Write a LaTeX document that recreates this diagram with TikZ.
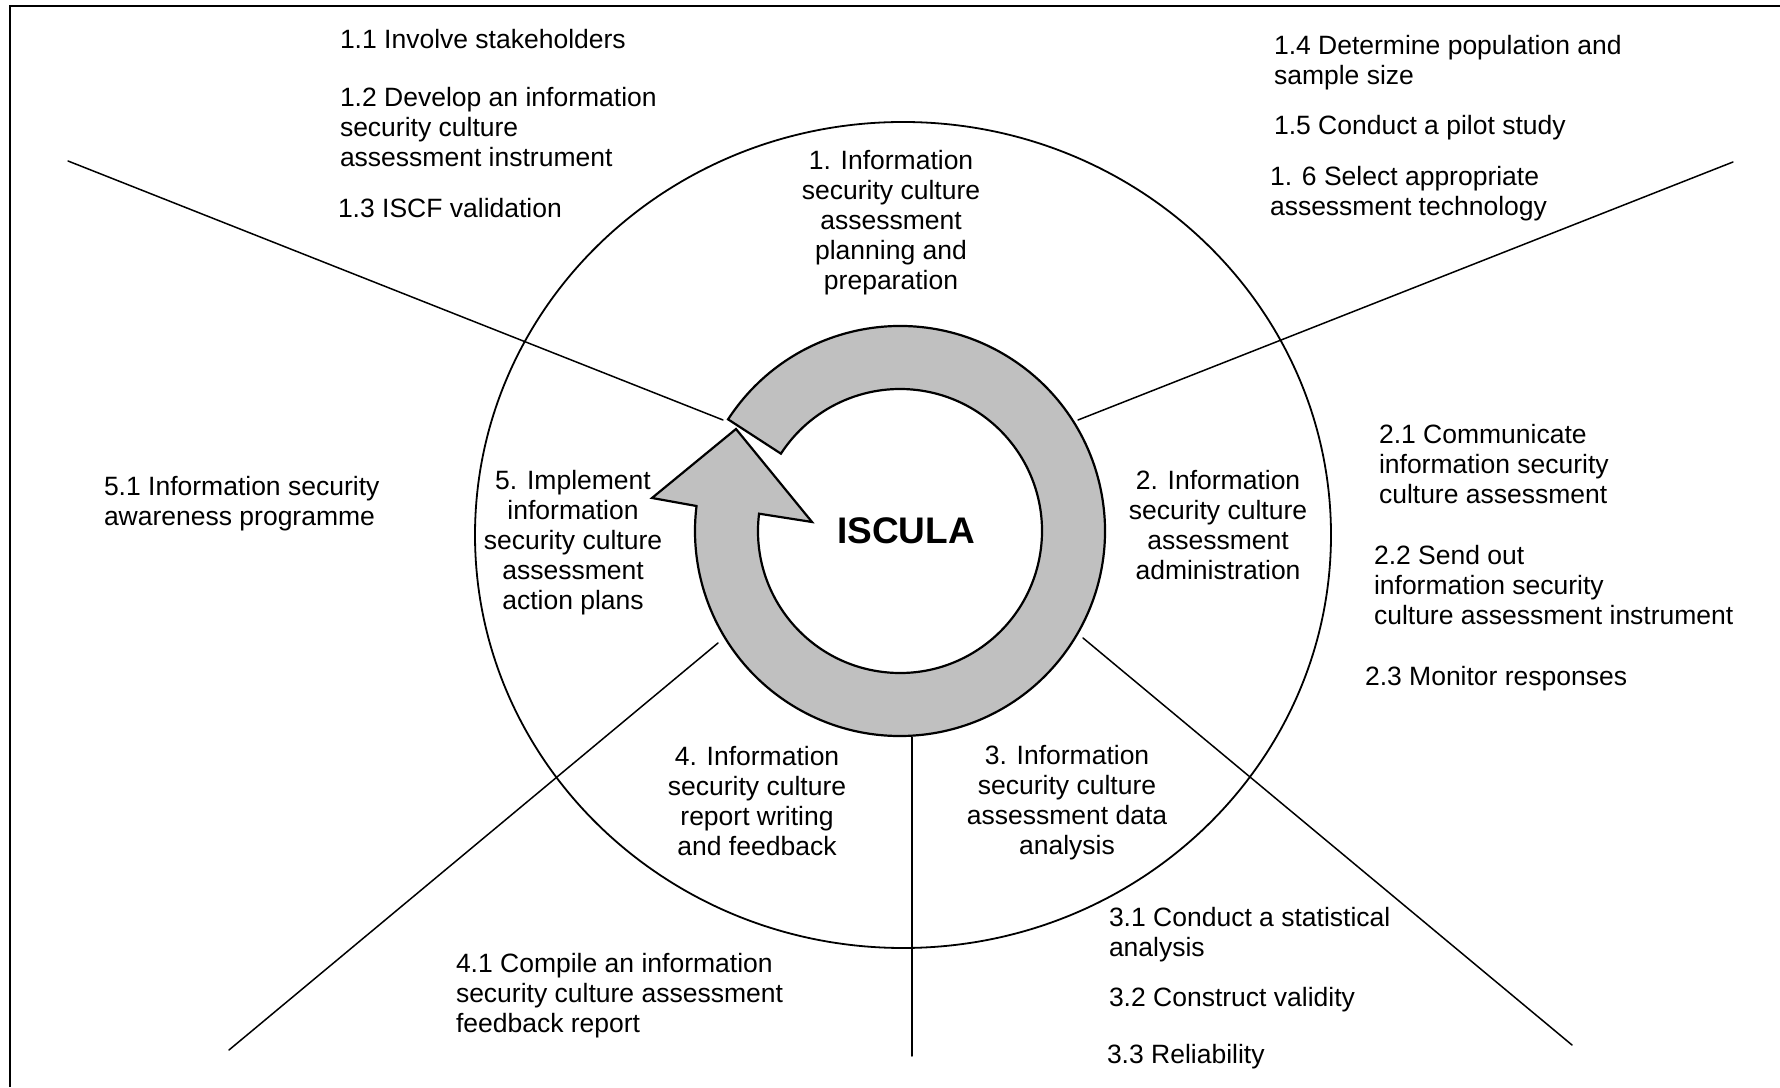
\documentclass[tikz,border=0pt]{standalone}
\usepackage{fontspec}
\setmainfont{Liberation Sans}
\usetikzlibrary{calc,shapes.geometric}
\definecolor{ringgray}{HTML}{C0C0C0}
\begin{document}
\begin{tikzpicture}[x=1pt,y=1pt,
  lbl/.style={inner sep=0pt, outer sep=0pt, align=left, anchor=north west, font=\fontsize{26.5}{30}\selectfont},
  clbl/.style={inner sep=0pt, outer sep=0pt, align=center, anchor=north, font=\fontsize{26.5}{30}\selectfont},
  spoke/.style={line width=1.5pt, line cap=round},
  ring/.style={fill=ringgray, draw=black, line width=2.2pt, line join=miter},
]
\useasboundingbox (0,0) rectangle (1780,1087);
% frame (clipped at right and bottom)
\draw[line width=2.5pt] (10,0) -- (10,1081) -- (1780,1081);
% big circle
\node[draw, line width=1.8pt, ellipse, minimum width=856pt, minimum height=826pt, inner sep=0pt] (big) at (903,552) {};
% spokes
\coordinate (s1i) at (723,667); \coordinate (s1o) at (68,926);
\coordinate (s2i) at (1078,667); \coordinate (s2o) at (1733,925);
\coordinate (s3i) at (1083,449); \coordinate (s3o) at (1572,42);
\coordinate (s4i) at (912,350); \coordinate (s4o) at (912,31);
\coordinate (s5i) at (718,444); \coordinate (s5o) at (229,37);
\draw[spoke] (s1i) -- (s1o);
\draw[spoke] (s2i) -- (s2o);
\draw[spoke] (s3i) -- (s3o);
\draw[spoke] (s4i) -- (s4o);
\draw[spoke] (s5i) -- (s5o);
% cycle arrow
\coordinate (rc) at (900,556);
\coordinate (hb1) at (652,589);
\coordinate (htip) at (736,658);
\coordinate (hb2) at (812,565);
\draw[ring] ($(rc)+(147:205)$) arc[start angle=147, end angle=-187, radius=205]
  -- (hb1) -- (htip) -- (hb2) -- ($(rc)+(-187:142)$)
  arc[start angle=-187, end angle=147, radius=142] -- cycle;
\node[inner sep=0pt, font=\fontsize{37}{40}\selectfont\bfseries] (iscula) at (906,556) {ISCULA};
% phase labels inside circle
\node[clbl] (p1) at (891,937) {1. Information\\security culture\\assessment\\planning and\\preparation};
\node[clbl] (p2) at (1218,617) {2. Information\\security culture\\assessment\\administration};
\node[clbl] (p3) at (1067,342) {3. Information\\security culture\\assessment data\\analysis};
\node[clbl] (p4) at (757,341) {4. Information\\security culture\\report writing\\and feedback};
\node[clbl] (p5) at (573,617) {5. Implement\\information\\security culture\\assessment\\action plans};
% sub-steps
\node[lbl] (t11) at (340,1058) {1.1 Involve stakeholders};
\node[lbl] (t12) at (340,1000) {1.2 Develop an information\\security culture\\assessment instrument};
\node[lbl] (t13) at (338,889) {1.3 ISCF validation};
\node[lbl] (t14) at (1274,1052) {1.4 Determine population and\\sample size};
\node[lbl] (t15) at (1274,972) {1.5 Conduct a pilot study};
\node[lbl] (t16) at (1270,921) {1. 6 Select appropriate\\assessment technology};
\node[lbl] (t21) at (1379,663) {2.1 Communicate\\information security\\culture assessment};
\node[lbl] (t22) at (1374,542) {2.2 Send out\\information security\\culture assessment instrument};
\node[lbl] (t23) at (1365,421) {2.3 Monitor responses};
\node[lbl] (t31) at (1109,180) {3.1 Conduct a statistical\\analysis};
\node[lbl] (t32) at (1109,100) {3.2 Construct validity};
\node[lbl] (t33) at (1107,43) {3.3 Reliability};
\node[lbl] (t41) at (456,134) {4.1 Compile an information\\security culture assessment\\feedback report};
\node[lbl] (t51) at (104,611) {5.1 Information security\\awareness programme};
\end{tikzpicture}
\end{document}
